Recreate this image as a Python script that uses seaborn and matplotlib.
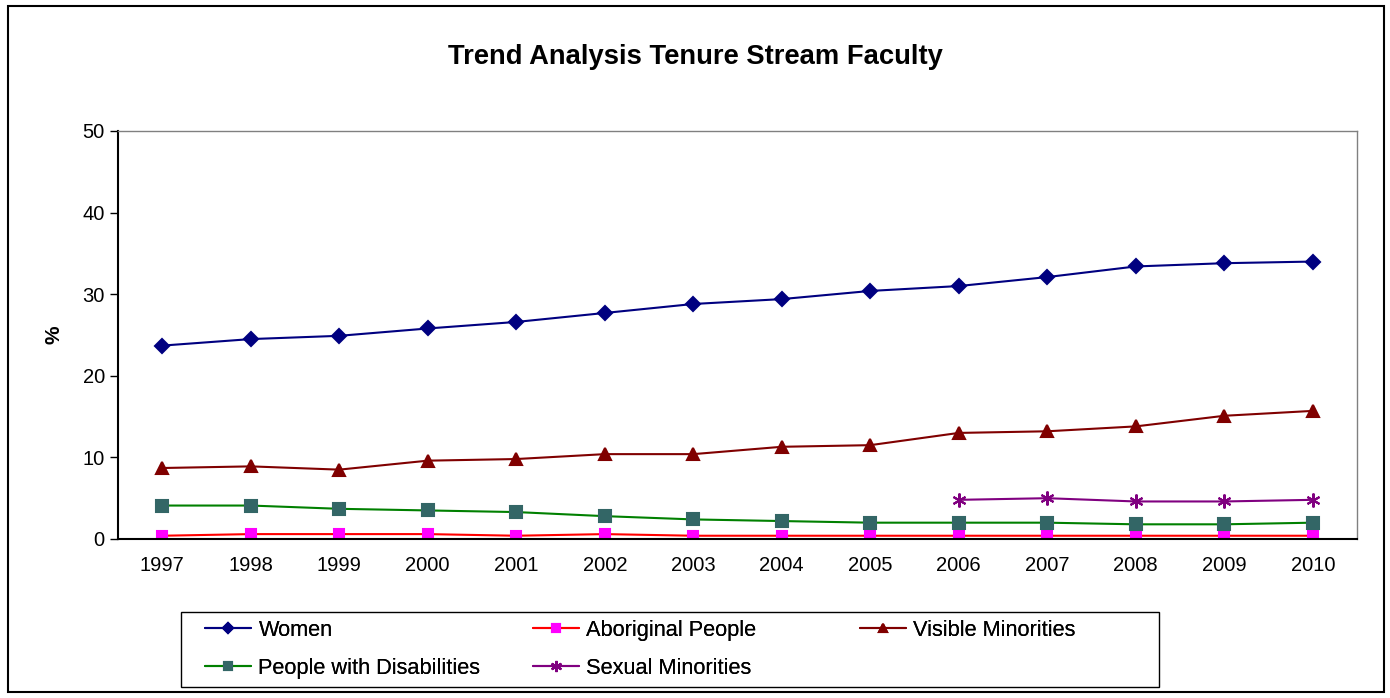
import numpy as np
import pandas as pd
import matplotlib.pyplot as plt
import seaborn as sns
from matplotlib.patches import Rectangle

years = ['1997', '1998', '1999', '2000', '2001', '2002', '2003',
         '2004', '2005', '2006', '2007', '2008', '2009', '2010']
women = [23.7, 24.5, 24.9, 25.8, 26.6, 27.7, 28.8, 29.4, 30.4, 31.0, 32.1, 33.4, 33.8, 34.0]
aboriginal = [0.4, 0.6, 0.6, 0.6, 0.4, 0.6, 0.4, 0.4, 0.4, 0.4, 0.4, 0.4, 0.4, 0.4]
visible = [8.7, 8.9, 8.5, 9.6, 9.8, 10.4, 10.4, 11.3, 11.5, 13.0, 13.2, 13.8, 15.1, 15.7]
disabilities = [4.1, 4.1, 3.7, 3.5, 3.3, 2.8, 2.4, 2.2, 2.0, 2.0, 2.0, 1.8, 1.8, 2.0]
sexual_years = ['2006', '2007', '2008', '2009', '2010']
sexual = [4.8, 5.0, 4.6, 4.6, 4.8]

sns.set_style('white')
plt.rcParams['font.family'] = ['Liberation Sans', 'DejaVu Sans']
plt.rcParams['text.color'] = 'black'

fig = plt.figure(figsize=(13.9, 6.98), dpi=100)
ax = fig.add_axes([118 / 1390, 1 - 539 / 698, 1239 / 1390, 408 / 698])

# (label, values, years, line colour, marker, marker colour, marker size)
series = [
    ('Women', women, years, '#000080', 'D', '#000080', 7),
    ('Aboriginal People', aboriginal, years, '#ff0000', 's', '#ff00ff', 7),
    ('Visible Minorities', visible, years, '#800000', '^', '#800000', 8),
    ('People with Disabilities', disabilities, years, '#008000', 's', '#336666', 8),
    ('Sexual Minorities', sexual, sexual_years, '#800080', (6, 2, 0), '#800080', 10),
]
pos = {y: i for i, y in enumerate(years)}
for label, vals, yrs, lc, mk, mc, ms in series:
    d = pd.DataFrame({'x': [pos[y] for y in yrs], 'v': vals})
    sns.lineplot(data=d, x='x', y='v', ax=ax, color=lc, lw=1.5, marker=mk,
                 markersize=ms, markerfacecolor=mc, markeredgecolor=mc,
                 markeredgewidth=1.5, label=label)

ax.set_xlim(-0.5, 13.5)
ax.set_ylim(0, 50)
ax.set_yticks([0, 10, 20, 30, 40, 50])
ax.set_xticks(range(len(years)))
ax.set_xticklabels(years)
ax.set_xticks(np.arange(-0.5, 14, 1), minor=True)
ax.tick_params(axis='x', which='major', length=0, labelsize=14.5, pad=12, labelcolor='black')
ax.tick_params(axis='x', which='minor', length=6, width=1, color='gray', direction='out')
ax.tick_params(axis='y', length=6, width=1, labelsize=14.5, direction='out', left=True,
               color='black', labelcolor='black')
ax.set_xlabel('')
ax.set_ylabel('%', fontsize=15, fontweight='bold', color='black')
ax.yaxis.set_label_coords((64 - 118) / 1239, 0.5)

for s in ['left', 'bottom']:
    ax.spines[s].set_color('black')
    ax.spines[s].set_linewidth(1.5)
for s in ['top', 'right']:
    ax.spines[s].set_color('gray')
    ax.spines[s].set_linewidth(1)

fig.text(0.5, 1 - 57 / 698, 'Trend Analysis Tenure Stream Faculty', ha='center',
         va='center', fontsize=19.7, fontweight='bold')

# legend: Excel-style fixed columns inside one box
ax.get_legend().remove()
handles, labels = ax.get_legend_handles_labels()
hl = dict(zip(labels, handles))
columns = [(205, ['Women', 'People with Disabilities']),
           (533, ['Aboriginal People', 'Sexual Minorities']),
           (860, ['Visible Minorities'])]
for x0, names in columns:
    leg = fig.legend([hl[n] for n in names], names, loc='upper left',
                     bbox_to_anchor=(x0 / 1390, 1 - 620 / 698), frameon=False,
                     fontsize=15.7, handlelength=2.1, handletextpad=0.35,
                     borderpad=0, borderaxespad=0, labelspacing=0.78,
                     markerscale=0.8)
    fig.add_artist(leg)

fig.patches.append(Rectangle((181 / 1390, 1 - 687 / 698), 978 / 1390, 75 / 698,
                             transform=fig.transFigure, fill=False,
                             edgecolor='black', lw=1))
fig.patches.append(Rectangle((8 / 1390, 6 / 698), 1376 / 1390, 686 / 698,
                             transform=fig.transFigure, fill=False,
                             edgecolor='black', lw=1.5))

fig.savefig('out.png', dpi=100)
